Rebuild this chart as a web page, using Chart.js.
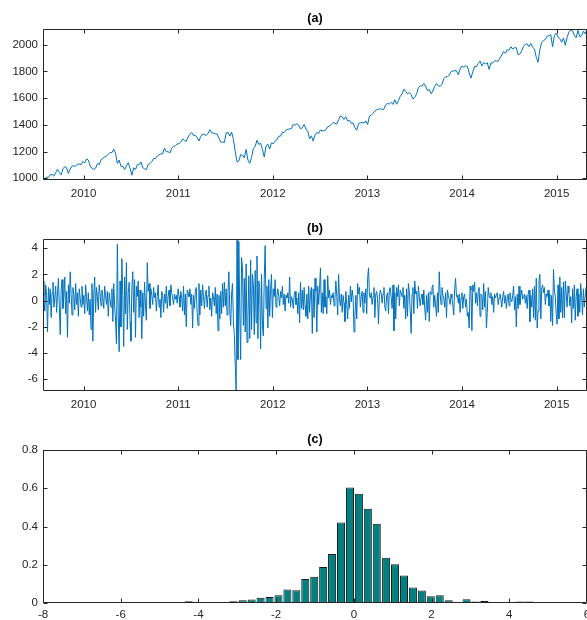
<!DOCTYPE html>
<html>
<head>
<meta charset="utf-8">
<script src="https://cdn.jsdelivr.net/npm/chart.js@4.4.0/dist/chart.umd.min.js"></script>
<style>
  body { margin: 0; background: #fff; }
  .panel { position: absolute; left: 0; width: 587px; }
  #panel-a { top: 0; height: 210px; }
  #panel-b { top: 210px; height: 211px; }
  #panel-c { top: 421px; height: 199px; }
</style>
</head>
<body>
<div class="panel" id="panel-a"><canvas id="price-chart"></canvas></div>
<div class="panel" id="panel-b"><canvas id="return-chart"></canvas></div>
<div class="panel" id="panel-c"><canvas id="hist-chart"></canvas></div>
<script>
// Data

// weekly closes, late Jul 2009 .. late Apr 2015
const closes = [
  987, 995, 1010, 1005, 1026, 1029, 1016, 1042, 1068, 1044, 1025, 1071, 1087, 1079, 1036, 1069, 1093, 1091, 1091, 1106, 1106, 1102, 1126, 1115,
  1145, 1136, 1092, 1074, 1066, 1075, 1109, 1104, 1138, 1150, 1160, 1167, 1179, 1194, 1192, 1217, 1187, 1111, 1136, 1088, 1089, 1065, 1092, 1117, 1076, 1023, 1078, 1065, 1102, 1102, 1122, 1079, 1071, 1065, 1105, 1110, 1125, 1149, 1146, 1166, 1176, 1183, 1183, 1225, 1199, 1199, 1189, 1225, 1240, 1244, 1257, 1258,
  1271, 1293, 1283, 1276, 1310, 1329, 1343, 1320, 1321, 1304, 1279, 1313, 1332, 1328, 1320, 1337, 1364, 1340, 1338, 1333, 1331, 1300, 1271, 1271, 1268, 1339, 1344, 1316, 1345, 1292, 1199, 1122, 1130, 1177, 1174, 1154, 1216, 1136, 1112, 1155, 1225, 1238, 1285, 1253, 1263, 1216, 1159, 1244, 1255, 1219, 1265, 1258,
  1278, 1289, 1315, 1316, 1345, 1343, 1361, 1366, 1370, 1371, 1404, 1397, 1408, 1398, 1370, 1379, 1403, 1369, 1353, 1295, 1318, 1278, 1325, 1343, 1335, 1362, 1355, 1356, 1363, 1386, 1391, 1405, 1418, 1411, 1407, 1438, 1466, 1460, 1441, 1461, 1429, 1433, 1411, 1414, 1380, 1360, 1409, 1416, 1418, 1413, 1430, 1402,
  1466, 1472, 1486, 1503, 1513, 1518, 1520, 1516, 1518, 1551, 1561, 1556, 1569, 1553, 1588, 1555, 1582, 1614, 1633, 1667, 1650, 1631, 1643, 1626, 1593, 1606, 1632, 1680, 1692, 1691, 1710, 1691, 1656, 1664, 1633, 1655, 1688, 1710, 1692, 1690, 1703, 1745, 1759, 1762, 1771, 1798, 1804, 1806, 1805, 1775, 1818, 1841,
  1831, 1842, 1838, 1790, 1750, 1797, 1838, 1836, 1859, 1878, 1841, 1866, 1857, 1865, 1815, 1864, 1863, 1881, 1878, 1877, 1900, 1924, 1950, 1936, 1962, 1960, 1985, 1967, 1978, 1978, 1925, 1931, 1955, 1988, 2003, 2007, 1985, 2010, 1982, 1967, 1906, 1870, 1964, 2018, 2032, 2039, 2064, 2068, 2075, 1985, 2070, 2088,
  2058, 2045, 2019, 2051, 1995, 2055, 2096, 2110, 2104, 2071, 2053, 2108, 2061, 2067, 2102, 2081, 2117,
];

// returns (%), two readings per week over the same span
const returns = [
  1.5, 0.3, -0.8, 1.2, 0.4, -2.4, 1.0, -0.3, 0.9, -1.3, 0.6, 1.4, -0.5, 0.2, 1.1, -0.9, 0.5, 1.7, -0.4, -2.6,
  0.8, 1.6, -0.6, 0.3, 1.8, -1.0, 0.7, -2.8, 1.2, -0.2, 2.2, 0.5, -1.1, 1.0, 0.4, -0.7, 1.3, -0.3, 0.6, -1.2,
  0.9, 0.2, -0.5, 1.1, -0.3, 0.4, -1.0, 1.2, 0.3, -0.8, 0.6, -1.1, 0.1, -2.2, 1.3, -3.1, 0.5, 1.8, -0.9, 1.0,
  0.3, -0.7, 1.2, 0.5, -0.4, 0.8, 0.2, -0.6, 1.1, 0.4, -0.3, 0.7, -1.2, 0.6, 0.1, -0.5, 0.9, -1.6, 1.3, -0.4,
  -1.5, -3.3, 4.3, -1.2, -3.9, 1.5, -2.0, 3.2, 0.4, -3.5, 1.8, -1.0, 2.9, -2.2, 0.6, 1.4, -1.6, -3.1, 1.0, 2.2,
  -0.9, 1.6, -2.8, 1.1, 0.3, 1.5, -1.3, 0.8, -0.5, -2.9, 0.6, -1.2, 1.4, -0.4, -1.5, 2.9, 0.7, 1.3, -0.6, 0.9,
  0.4, -0.3, 1.0, 0.2, 0.6, -0.8, 0.3, 1.2, -0.5, 0.1, -1.3, 0.7, 0.4, -0.9, 0.5, -0.2, 1.1, -0.6, 0.3, 0.8,
  -0.4, 1.2, 0.6, 0.2, -0.3, 0.5, 0.1, 0.4, -0.2, 0.9, 0.3, -0.5, 0.7, 0.2, -0.8, 1.1, -1.1, 0.5, -2.0, 0.8,
  0.6, 0.3, 0.9, -0.3, 0.5, -2.1, 0.4, -0.6, 0.7, 1.0, -0.9, -1.9, 1.3, -1.1, 0.8, -0.4, 1.2, 0.3, -0.6, 0.5,
  0.8, -0.5, 0.4, 1.1, -0.7, 0.2, -1.2, 0.6, 0.3, -0.4, 1.0, -1.0, 0.5, -2.3, 0.4, -1.4, 0.7, -1.0, 1.3, -0.5,
  1.4, -0.4, 0.9, -1.1, 0.6, 2.2, -0.8, -1.9, 0.5, 1.3, -1.6, -2.6, -4.9, -6.9, 4.6, -4.5, 4.5, -1.0, -4.5, 3.3,
  2.5, -1.9, 1.7, -2.4, 2.8, -3.2, -1.3, 1.9, -2.9, 3.1, -2.2, 2.0, 1.2, -2.6, 2.3, -1.7, 3.4, -2.9, 1.5, 1.0,
  -3.7, 2.0, -1.9, -2.7, 1.6, 4.2, -0.6, 1.1, -2.1, 1.6, -1.2, 0.8, 2.0, -1.3, 0.9, 0.3, 1.6, -0.5, 0.4, 0.9,
  0.3, -0.4, 0.7, 0.2, 1.1, -0.3, 0.5, -0.8, 0.4, 0.2, 0.6, -0.2, 1.8, -0.5, 0.3, 0.1, -0.6, 0.4, 0.7, -0.3,
  0.2, -1.0, 0.6, -1.7, 1.4, -0.6, 0.8, -0.7, 1.0, -0.4, -1.2, 0.5, -1.4, 1.1, -0.9, 0.6, 1.0, -2.5, 0.9, -1.3,
  1.7, 0.7, -2.4, 1.1, -0.3, 0.9, 2.5, -0.9, 0.6, -1.0, 1.6, -0.5, 0.3, -1.0, 1.9, 0.2, 0.8, -0.3, 0.4, 0.2,
  0.6, -0.4, 0.2, 1.5, 0.3, -1.1, 2.0, 0.1, -0.4, 0.5, -0.9, 0.4, -0.2, -1.6, 0.7, -0.3, -1.4, 0.4, -0.6, 1.1,
  -0.1, 0.8, 0.2, -2.4, -1.2, 0.4, -1.4, 1.3, 0.5, 1.0, -0.5, 0.3, 0.7, -0.9, 0.6, -0.2, 0.9, -1.0, 1.7, 2.5,
  0.4, 0.2, 0.6, -0.3, 0.3, 1.0, -1.3, 0.5, 0.7, 0.1, -1.8, 0.3, 0.8, 0.6, -0.2, 0.5, 1.0, -0.5, -0.8, 0.4,
  0.6, -1.0, 0.8, 1.0, 0.2, -0.6, 1.2, -2.3, 0.6, -1.4, 1.0, 0.3, 1.2, -0.4, 0.8, 0.6, 0.3, 1.0, -0.6, 0.4,
  -1.4, 0.9, -1.2, 1.3, 0.7, -0.8, -2.5, 0.5, 1.0, -1.0, 1.5, 0.5, 0.7, -0.6, 1.1, 0.3, -0.4, 0.2, 0.5, -0.3,
  0.8, -0.6, -1.5, 0.4, -0.9, 0.6, -1.6, 0.7, 0.5, 1.0, 1.2, -0.5, 0.4, -0.4, -1.2, 0.6, -0.9, 2.2, 0.5, -0.3,
  1.0, 0.4, 0.2, -0.5, 0.6, -1.3, 0.8, 0.4, 0.1, -0.3, 0.5, 0.2, -0.4, -1.1, 0.9, 1.7, 0.3, 0.4, -0.2, 0.5,
  -0.9, 0.2, 0.6, -0.6, 0.3, 0.5, -0.5, 0.1, -1.2, -0.9, -2.1, 1.1, 0.8, -2.3, 1.2, 0.7, 1.4, -0.2, 0.6, -0.4,
  0.7, 1.0, -1.2, 0.5, 0.4, -0.7, 1.3, -0.5, 0.7, -2.1, -0.9, 1.0, 0.4, 0.2, 0.6, -0.3, 0.3, -0.9, 0.5, 0.2,
  0.4, 0.6, -0.3, 0.2, 0.5, 0.1, -0.5, 0.3, 0.7, -0.2, 0.4, -0.6, 0.2, 0.5, -0.4, 0.6, 0.1, -0.1, 0.4, 1.1,
  -0.7, 0.3, -2.0, 0.5, -0.6, 1.1, -0.3, 0.4, 0.8, 0.1, 0.3, 0.5, -0.2, 0.4, -0.6, 0.5, 0.8, -1.6, 0.4, -0.5,
  0.9, -1.3, 1.1, -1.5, 1.7, -2.1, -0.8, 1.5, 2.0, -1.4, 0.9, 1.2, 0.6, 1.0, -0.3, 0.5, 0.3, 0.8, -0.4, 0.5,
  -1.6, 0.4, -1.9, 2.4, 0.8, 0.3, -1.0, -1.8, 1.2, -1.4, 1.8, -0.9, 1.0, -1.3, 1.4, -1.3, 1.5, 0.5, -0.5, 1.1,
  0.6, -0.4, 0.3, -1.7, 0.9, -0.6, 1.2, -1.5, 0.3, 0.9, -1.2, 0.5, -0.9, 1.3, 0.4, -1.1, 0.9, -0.5, 0.3, 1.0,
  -1.0,
];

// histogram of the returns: bin centres and density
const binCenters = [
  -6.79, -6.55, -6.32, -6.09, -5.86, -5.63, -5.40, -5.17, -4.94, -4.71,
  -4.48, -4.25, -4.02, -3.79, -3.56, -3.33, -3.10, -2.86, -2.63, -2.40,
  -2.17, -1.94, -1.71, -1.48, -1.25, -1.02, -0.79, -0.56, -0.33, -0.10,
  0.13, 0.36, 0.59, 0.83, 1.06, 1.29, 1.52, 1.75, 1.98, 2.21,
  2.44, 2.67, 2.90, 3.13, 3.36, 3.59, 3.82, 4.05, 4.28, 4.51,
];
const density = [
  0.004, 0.001, 0.001, 0.001, 0.001, 0.001, 0.001, 0.001, 0.003, 0.001,
  0.001, 0.009, 0.003, 0.003, 0.003, 0.005, 0.009, 0.014, 0.018, 0.028,
  0.032, 0.040, 0.070, 0.067, 0.125, 0.137, 0.188, 0.256, 0.421, 0.604,
  0.571, 0.493, 0.414, 0.237, 0.202, 0.144, 0.081, 0.065, 0.035, 0.040,
  0.014, 0, 0.019, 0.008, 0.011, 0.001, 0.001, 0.001, 0.008, 0.008,
];

// tick labels
const yearTicks = [2010, 2011, 2012, 2013, 2014, 2015];
const priceTicks = [1000, 1200, 1400, 1600, 1800, 2000];
const returnTicks = [-6, -4, -2, 0, 2, 4];
const histXTicks = [-8, -6, -4, -2, 0, 2, 4, 6];
const histYTicks = [0, 0.2, 0.4, 0.6, 0.8];

// dates as fractional years
const firstDay = 2009.571;
const weekStep = 7 / 365.25;
const closeDates = closes.map((_, i) => firstDay + i * weekStep);
const returnDates = returns.map((_, i) => firstDay + i * weekStep / 2);

// Shared look

const axisColor = "#262626";
const lineBlue = "#0072BD";
Chart.defaults.font.family = '"Liberation Sans", Arial, sans-serif';
Chart.defaults.font.size = 11.5;
Chart.defaults.color = axisColor;
Chart.defaults.animation = false;

// draw the axes box with MATLAB-style inward ticks on all four sides
const boxTicks = {
  id: "boxTicks",
  afterDraw(chart) {
    const { ctx, chartArea: a, scales } = chart;
    const left = Math.round(a.left) + 0.5;
    const right = Math.round(a.right) - 0.5;
    const top = Math.round(a.top) + 0.5;
    const bottom = Math.round(a.bottom) - 0.5;
    const len = 4;
    ctx.save();
    ctx.strokeStyle = axisColor;
    ctx.lineWidth = 1;
    ctx.beginPath();
    ctx.rect(left, top, right - left, bottom - top);
    scales.x.ticks.forEach((t) => {
      const px = Math.round(scales.x.getPixelForValue(t.value)) + 0.5;
      ctx.moveTo(px, bottom);
      ctx.lineTo(px, bottom - len);
      ctx.moveTo(px, top);
      ctx.lineTo(px, top + len);
    });
    scales.y.ticks.forEach((t) => {
      const py = Math.round(scales.y.getPixelForValue(t.value)) + 0.5;
      ctx.moveTo(left, py);
      ctx.lineTo(left + len, py);
      ctx.moveTo(right, py);
      ctx.lineTo(right - len, py);
    });
    ctx.stroke();
    ctx.restore();
  },
};

function fixedTicks(values) {
  return (scale) => {
    scale.ticks = values.map((v) => ({ value: v }));
  };
}

function xAxis(min, max, values, height, pad) {
  return {
    type: "linear",
    min: min,
    max: max,
    offset: false,
    grid: { display: false, drawTicks: false },
    border: { display: false },
    afterBuildTicks: fixedTicks(values),
    afterFit: (scale) => {
      scale.height = height;
      scale.paddingLeft = 0;
      scale.paddingRight = 0;
    },
    ticks: { padding: pad, maxRotation: 0, autoSkip: false, callback: (v) => String(v) },
  };
}

function yAxis(min, max, values) {
  return {
    min: min,
    max: max,
    grid: { display: false, drawTicks: false },
    border: { display: false },
    afterBuildTicks: fixedTicks(values),
    afterFit: (scale) => {
      scale.width = 43;
      scale.paddingTop = 0;
      scale.paddingBottom = 0;
    },
    ticks: { padding: 5, autoSkip: false, callback: (v) => String(v) },
  };
}

function panelTitle(text) {
  return {
    display: true,
    text: text,
    fullSize: false,
    color: "#000",
    font: { size: 12.5, weight: "bold" },
    padding: { top: 11, bottom: 3 },
  };
}

const baseOptions = {
  responsive: true,
  maintainAspectRatio: false,
  layout: { padding: { left: 0, right: 0, top: 0, bottom: 0 } },
  events: [],
};

// (a) Price line

new Chart(document.getElementById("price-chart"), {
  type: "line",
  data: {
    datasets: [
      {
        data: closes.map((v, i) => ({ x: closeDates[i], y: v })),
        borderColor: lineBlue,
        borderWidth: 1,
        pointRadius: 0,
        tension: 0,
      },
    ],
  },
  options: {
    ...baseOptions,
    scales: {
      x: xAxis(2009.571, 2015.32, yearTicks, 30, 7),
      y: yAxis(987, 2118, priceTicks),
    },
    plugins: { legend: { display: false }, tooltip: { enabled: false }, title: panelTitle("(a)") },
  },
  plugins: [boxTicks],
});

// (b) Returns line

new Chart(document.getElementById("return-chart"), {
  type: "line",
  data: {
    datasets: [
      {
        data: returns.map((v, i) => ({ x: returnDates[i], y: v })),
        borderColor: lineBlue,
        borderWidth: 1,
        pointRadius: 0,
        tension: 0,
      },
    ],
  },
  options: {
    ...baseOptions,
    scales: {
      x: xAxis(2009.571, 2015.32, yearTicks, 30, 7),
      y: yAxis(-6.9, 4.7, returnTicks),
    },
    plugins: { legend: { display: false }, tooltip: { enabled: false }, title: panelTitle("(b)") },
  },
  plugins: [boxTicks],
});

// (c) Histogram

new Chart(document.getElementById("hist-chart"), {
  type: "bar",
  data: {
    datasets: [
      {
        data: density.map((v, i) => ({ x: binCenters[i], y: v })),
        backgroundColor: "#008080",
        borderColor: "#1a1a1a",
        borderWidth: 1,
        barPercentage: 0.9,
        categoryPercentage: 1,
      },
    ],
  },
  options: {
    ...baseOptions,
    scales: {
      x: xAxis(-8, 6, histXTicks, 17, 5),
      y: yAxis(0, 0.8, histYTicks),
    },
    plugins: { legend: { display: false }, tooltip: { enabled: false }, title: panelTitle("(c)") },
  },
  plugins: [boxTicks],
});
</script>
</body>
</html>
